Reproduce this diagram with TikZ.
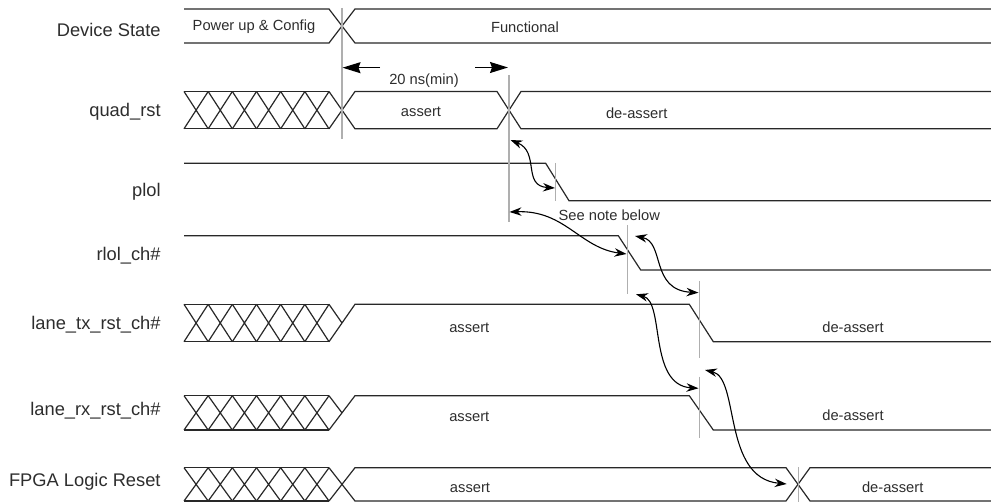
\documentclass[tikz,border=0pt]{standalone}
\usepackage{fontspec}
\setmainfont{Liberation Sans}
\usetikzlibrary{arrows.meta}
\definecolor{wavegray}{RGB}{40,40,40}
\definecolor{guidegray}{RGB}{175,175,175}
\definecolor{textgray}{RGB}{45,45,45}

% crossed (don't care) bus section between two levels
\newcommand{\busx}[2]{%
  \draw[wave] (184,#1) -- (329,#1) (184,#2) -- (329,#2);
  \foreach \k in {0,...,5}
    \draw[wave] ({184+24.17*\k},#1) -- ({184+24.17*(\k+1)},#2)
                ({184+24.17*\k},#2) -- ({184+24.17*(\k+1)},#1);
}

\begin{document}
\begin{tikzpicture}[x=0.5pt, y=-0.5pt,
  wave/.style={draw=wavegray, line width=0.6pt},
  guide/.style={draw=guidegray, line width=0.55pt},
  sig/.style={anchor=base east, font=\fontsize{9.15}{11}\selectfont, text=textgray, inner sep=0pt},
  state/.style={anchor=base, font=\fontsize{7.35}{9}\selectfont, text=textgray, inner sep=0pt},
  hop/.style={draw=black, line width=0.55pt, {Stealth[length=6pt,width=4.2pt]}-{Stealth[length=6pt,width=4.2pt]}},
  span/.style={draw=black, line width=0.65pt, -{Stealth[length=9pt,width=5.5pt,inset=1pt]}}
]
  \useasboundingbox (0,0) rectangle (991,502);

  % signal names
  \node[sig] (lblDev)  at (161,36.5) {Device State};
  \node[sig] (lblQuad) at (161,117)  {quad\_rst};
  \node[sig] (lblPlol) at (161,197)  {plol};
  \node[sig] (lblRlol) at (161,261)  {rlol\_ch\#};
  \node[sig] (lblTx)   at (161,329)  {lane\_tx\_rst\_ch\#};
  \node[sig] (lblRx)   at (161,415.5){lane\_rx\_rst\_ch\#};
  \node[sig] (lblFpga) at (161,486)  {FPGA Logic Reset};

  % Device State
  \draw[wave] (184,9) -- (329,9) -- (355,43) -- (991,43);
  \draw[wave] (184,43) -- (329,43) -- (355,9) -- (991,9);
  \node[state] (stPower) at (254,30.5) {Power up \& Config};
  \node[state] (stFunc)  at (525,32.5) {Functional};

  % quad_rst
  \busx{91.5}{128.8}
  \draw[wave] (329,91.5) -- (355,128.8) -- (497,128.8) -- (521,91.5) -- (991,91.5);
  \draw[wave] (329,128.8) -- (355,91.5) -- (497,91.5) -- (521,128.8) -- (991,128.8);
  \node[state] (qAssert)   at (421,116.7) {assert};
  \node[state] (qDeassert) at (636.7,119) {de-assert};

  % plol, rlol_ch#
  \draw[wave] (184,163.3) -- (545.7,163.3) -- (569,200.7) -- (991,200.7);
  \draw[wave] (184,235.7) -- (618.3,235.7) -- (640.7,270) -- (991,270);

  % lane_tx_rst_ch#
  \busx{304.3}{341.7}
  \draw[wave] (329,304.3) -- (342,323);
  \draw[wave] (329,341.7) -- (355,304.3) -- (689.3,304.3) -- (713.3,341.7) -- (991,341.7);
  \node[state] (txAssert)   at (469.3,332.7) {assert};
  \node[state] (txDeassert) at (853,332.7)   {de-assert};

  % lane_rx_rst_ch#
  \busx{395.7}{430}
  \draw[wave] (329,395.7) -- (342,412.85);
  \draw[wave] (329,430) -- (355,395.7) -- (689.3,395.7) -- (713.3,430) -- (991,430);
  \node[state] (rxAssert)   at (469.3,421.7) {assert};
  \node[state] (rxDeassert) at (853,420.7)   {de-assert};

  % FPGA Logic Reset
  \busx{467.7}{501}
  \draw[wave] (329,467.7) -- (355,501) -- (786,501) -- (810,467.7) -- (991,467.7);
  \draw[wave] (329,501) -- (355,467.7) -- (786,467.7) -- (810,501) -- (991,501);
  \node[state] (fAssert)   at (470,492)     {assert};
  \node[state] (fDeassert) at (892.7,492.3) {de-assert};

  % timing guides
  \draw[guide] (342,8) -- (342,139);
  \draw[guide] (509,75) -- (509,222);
  \draw[guide] (555.7,163) -- (555.7,201);
  \draw[guide] (627.7,225) -- (627.7,294);
  \draw[guide] (699.3,281) -- (699.3,358);
  \draw[guide] (699.3,376.7) -- (699.3,438.3);
  \draw[guide] (798.3,467) -- (798.3,502);

  % 20 ns minimum
  \coordinate (nsL) at (342.5,67.7);
  \coordinate (nsLt) at (380,67.7);
  \coordinate (nsR) at (508,67.5);
  \coordinate (nsRt) at (475,67.5);
  \draw[span] (nsLt) -- (nsL);
  \draw[span] (nsRt) -- (nsR);
  \node[state] (tMin) at (424,84.3) {20 ns(min)};

  % dependencies
  \coordinate (qA) at (510.5,140);
  \coordinate (pA) at (555,188);
  \coordinate (qB) at (509.5,212);
  \coordinate (rA) at (626.5,254);
  \coordinate (rB) at (635,236);
  \coordinate (tA) at (698.5,292.7);
  \coordinate (rC) at (636,294.3);
  \coordinate (xA) at (698.5,388.3);
  \coordinate (tB) at (705,370);
  \coordinate (fA) at (786.7,484);
  \draw[hop] (qA) .. controls (540,152) and (522,186) .. (pA);
  \draw[hop] (qB) .. controls (565,210) and (580,248) .. (rA);
  \draw[hop] (rB) .. controls (665,242) and (650,290) .. (tA);
  \draw[hop] (rC) .. controls (665,302) and (648,385) .. (xA);
  \draw[hop] (tB) .. controls (740,378) and (722,478) .. (fA);
  \node[state] (note) at (609.3,221) {See note below};
\end{tikzpicture}
\end{document}
